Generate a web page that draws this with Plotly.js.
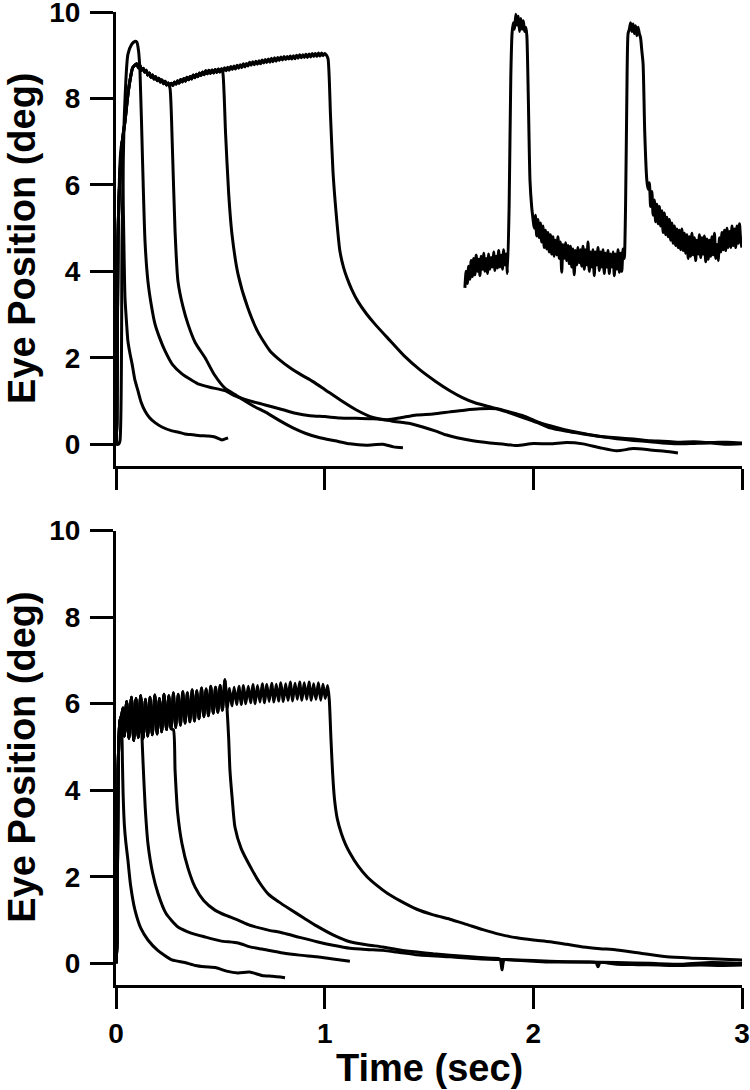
<!DOCTYPE html>
<html><head><meta charset="utf-8">
<script src="https://cdn.plot.ly/plotly-3.0.1.min.js"></script>
<style>html,body{margin:0;padding:0;background:#fff}</style>
</head><body>
<div id="chart" style="width:750px;height:1090px"></div>
<script>
// ---------------- axis ticks ----------------
const yTickVals = [0, 2, 4, 6, 8, 10];
const xTickVals = [0, 1, 2, 3];

// ---------------- TOP PANEL ----------------
const topRiseT = [0, 0.004, 0.0096, 0.02, 0.03, 0.043, 0.06, 0.081, 0.1];
const topRiseY = [0, 0.5, 4.77, 6.3, 7.0, 7.47, 8.2, 8.72, 8.8];

const topPlateauT = [0.1000,0.1075,0.1150,0.1225,0.1300,0.1375,0.1450,0.1525,0.1600,0.1675,0.1750,0.1825,0.1900,0.1975,0.2050,0.2125,0.2200,0.2275,0.2350,0.2425,0.2500,0.2575,0.2650,0.2725,0.2800,0.2875,0.2950,0.3025,0.3100,0.3175,0.3250,0.3325,0.3400,0.3475,0.3550,0.3625,0.3700,0.3775,0.3850,0.3925,0.4000,0.4075,0.4150,0.4225,0.4300,0.4375,0.4450,0.4525,0.4600,0.4675,0.4750,0.4825,0.4900,0.4975,0.5050,0.5125,0.5200,0.5275,0.5350,0.5425,0.5500,0.5575,0.5650,0.5725,0.5800,0.5875,0.5950,0.6025,0.6100,0.6175,0.6250,0.6325,0.6400,0.6475,0.6550,0.6625,0.6700,0.6775,0.6850,0.6925,0.7000,0.7075,0.7150,0.7225,0.7300,0.7375,0.7450,0.7525,0.7600,0.7675,0.7750,0.7825,0.7900,0.7975,0.8050,0.8125,0.8200,0.8275,0.8350,0.8425,0.8500,0.8575,0.8650,0.8725,0.8800,0.8875,0.8950,0.9025,0.9100,0.9175,0.9250,0.9325,0.9400,0.9475,0.9550,0.9625,0.9700,0.9775,0.9850,0.9925,1.0000,1.0075];
const topPlateauY = [8.81,8.71,8.76,8.65,8.70,8.61,8.65,8.54,8.59,8.49,8.54,8.45,8.50,8.41,8.47,8.38,8.43,8.34,8.40,8.31,8.36,8.29,8.35,8.30,8.38,8.33,8.41,8.35,8.44,8.38,8.46,8.40,8.49,8.43,8.51,8.45,8.54,8.48,8.56,8.50,8.59,8.53,8.61,8.55,8.64,8.57,8.65,8.58,8.66,8.59,8.67,8.60,8.68,8.61,8.69,8.62,8.71,8.64,8.72,8.65,8.74,8.67,8.75,8.68,8.77,8.70,8.78,8.71,8.80,8.73,8.81,8.75,8.84,8.77,8.85,8.78,8.86,8.79,8.87,8.80,8.89,8.82,8.90,8.83,8.91,8.84,8.93,8.85,8.94,8.86,8.95,8.88,8.96,8.89,8.97,8.90,8.97,8.91,8.98,8.91,8.99,8.92,9.00,8.93,9.01,8.94,9.01,8.95,9.02,8.95,9.03,8.96,9.04,8.97,9.04,8.97,9.05,8.98,9.05,8.99,9.04,9.01];

// trace 0: brief pulse, no hold
const top0T = [0,0.004,0.0096,0.018,0.026,0.031,0.035,0.039,0.043,0.05,0.057,0.067,0.077,0.09,0.105,0.12,0.139,0.16,0.187,0.22,0.268,0.3,0.33,0.37,0.402,0.44,0.474,0.508,0.52,0.537];
const top0Y = [0,0.5,4.77,6.4,7.0,6.6,5.5,4.3,3.4,2.85,2.39,2.1,1.86,1.5,1.24,0.98,0.77,0.62,0.5,0.4,0.31,0.28,0.24,0.22,0.2,0.19,0.17,0.1,0.12,0.15];

// trace 1: overshoot to 9.3
const top1T = [0,0.012,0.019,0.029,0.04,0.057,0.075,0.09,0.1,0.108,0.115,0.127,0.139,0.153,0.17,0.187,0.21,0.235,0.27,0.316,0.35,0.393,0.45,0.522,0.57,0.618,0.66,0.7,0.738,0.8,0.86,0.93,1.0,1.073,1.15,1.231,1.3,1.36,1.44,1.52,1.6,1.67,1.744,1.826,1.89,1.95,2.02,2.08,2.15,2.22,2.3,2.4,2.48,2.56,2.62,2.69,2.77,2.85,2.93,3.0];
const top1Y = [0,0.0,0.08,4.77,7.6,9.02,9.25,9.32,9.3,9.1,8.62,6.6,4.7,3.77,3.2,2.78,2.45,2.16,1.85,1.63,1.52,1.4,1.32,1.24,1.12,1.04,0.98,0.93,0.88,0.8,0.72,0.66,0.64,0.61,0.6,0.59,0.57,0.61,0.68,0.7,0.75,0.79,0.82,0.82,0.74,0.66,0.52,0.43,0.34,0.27,0.2,0.15,0.12,0.08,0.07,0.05,0.06,0.04,0.05,0.03];

// trace 2: hold to 0.25 s
const top2End = 0.25;
const top2T = [0.259,0.27,0.283,0.297,0.32,0.345,0.38,0.427,0.47,0.522,0.57,0.618,0.66,0.714,0.78,0.848,0.91,0.977,1.05,1.121,1.2,1.28,1.33,1.375];
const top2Y = [8.23,6.9,4.93,3.77,3.2,2.78,2.35,2.0,1.62,1.3,1.15,1.0,0.88,0.75,0.56,0.38,0.25,0.15,0.08,0.01,-0.02,0.0,-0.06,-0.08];

// trace 3: hold to 0.5 s
const top3End = 0.505;
const top3T = [0.512,0.525,0.54,0.556,0.585,0.632,0.68,0.738,0.79,0.834,0.89,0.944,1.0,1.073,1.15,1.231,1.32,1.409,1.47,1.529,1.58,1.634,1.71,1.792,1.86,1.921,2.0,2.08,2.16,2.238,2.319,2.4,2.48,2.56,2.63,2.693];
const top3Y = [8.6,7.2,5.8,4.85,3.93,3.15,2.6,2.16,1.93,1.77,1.6,1.45,1.27,1.03,0.8,0.62,0.54,0.48,0.4,0.31,0.22,0.15,0.08,0.03,0.0,-0.03,0.02,0.01,0.04,0.01,-0.08,-0.15,-0.1,-0.13,-0.16,-0.2];

// trace 4: hold to 1.0 s
const top4End = 1.0075;
const top4T = [1.016,1.028,1.04,1.054,1.073,1.09,1.107,1.13,1.16,1.2,1.241,1.313,1.38,1.457,1.53,1.6,1.66,1.72,1.78,1.826,1.89,1.95,2.02,2.08,2.16,2.238,2.32,2.4,2.48,2.56,2.62,2.69,2.77,2.85,2.93,3.0];
const top4Y = [8.92,7.6,6.3,5.4,4.47,4.1,3.85,3.58,3.3,3.02,2.78,2.4,2.05,1.72,1.46,1.24,1.08,0.96,0.88,0.82,0.72,0.62,0.5,0.38,0.3,0.24,0.18,0.13,0.09,0.06,0.03,0.01,0.02,0.03,0.0,0.01];

// inset: raw record with two saccades
const insetT = [1.672,1.678,1.684,1.690,1.696,1.702,1.708,1.714,1.720,1.726,1.732,1.738,1.744,1.750,1.756,1.762,1.768,1.774,1.780,1.786,1.792,1.798,1.804,1.810,1.816,1.822,1.828,1.834,1.840,1.846,1.852,1.858,1.864,1.870,1.876,
1.884,1.892,1.898,1.904,1.910,1.916,1.922,1.928,1.934,1.940,1.946,1.952,1.958,1.964,1.969,
1.976,1.984,1.992,1.998,2.004,2.010,2.016,2.022,2.028,2.034,2.040,2.046,2.052,2.058,2.064,2.070,2.076,2.082,2.088,2.094,2.100,2.106,2.112,2.118,2.124,2.130,2.136,2.142,2.148,2.154,2.160,2.166,2.172,2.178,2.184,2.190,2.196,2.202,2.208,2.214,2.220,2.226,2.232,2.238,2.244,2.250,2.256,2.262,2.268,2.274,2.280,2.286,2.292,2.298,2.304,2.310,2.316,2.322,2.328,2.334,2.340,2.346,2.352,2.358,2.364,2.370,2.376,2.382,2.388,2.394,2.400,2.406,2.412,2.418,2.424,2.430,2.436,
2.442,2.448,2.454,2.460,2.466,2.472,2.478,2.484,2.490,2.496,2.502,2.508,2.514,2.520,2.526,
2.534,2.544,2.550,2.556,2.562,2.568,2.574,2.580,2.586,2.592,2.598,2.604,2.610,2.616,2.622,2.628,2.634,2.640,2.646,2.652,2.658,2.664,2.670,2.676,2.682,2.688,2.694,2.700,2.706,2.712,2.718,2.724,2.730,2.736,2.742,2.748,2.754,2.760,2.766,2.772,2.778,2.784,2.790,2.796,2.802,2.808,2.814,2.820,2.826,2.832,2.838,2.844,2.850,2.856,2.862,2.868,2.874,2.880,2.886,2.892,2.898,2.904,2.910,2.916,2.922,2.928,2.934,2.940,2.946,2.952,2.958,2.964,2.970,2.976,2.982,2.988,2.994,3.000];
const insetY = [3.62,4.0,3.72,4.12,3.82,4.25,3.88,4.3,3.92,4.38,4.0,4.28,3.9,4.35,4.05,4.42,4.0,4.3,3.95,4.4,4.05,4.32,4.1,4.45,4.02,4.35,4.08,4.48,4.1,4.38,4.05,4.5,4.15,4.4,3.95,
5.5,8.5,9.5,9.75,9.6,9.95,9.7,9.9,9.55,9.85,9.6,9.8,9.55,9.65,9.45,
8.0,6.1,5.5,5.23,5.0,5.3,4.82,5.2,4.78,5.12,4.68,5.05,4.55,4.95,4.52,4.9,4.45,4.85,4.4,4.8,4.35,4.72,4.38,4.8,4.3,4.68,3.98,4.62,4.3,4.66,4.25,4.6,4.18,4.58,4.1,4.52,3.92,4.48,4.15,4.55,4.2,4.5,4.12,4.58,4.05,4.5,4.15,4.68,4.0,4.45,4.1,4.5,3.9,4.45,4.15,4.55,4.02,4.45,4.1,4.5,3.95,4.42,4.1,4.48,3.95,4.4,4.1,4.45,3.9,4.4,4.05,4.5,3.98,4.42,4.0,4.52,4.3,
5.5,8.0,9.5,9.6,9.75,9.55,9.72,9.5,9.68,9.45,9.65,9.5,9.4,9.1,8.8,
7.2,6.1,5.9,6.05,5.5,5.85,5.3,5.65,5.15,5.55,5.1,5.5,5.05,5.4,4.9,5.35,4.85,5.25,4.8,5.2,4.72,5.12,4.65,5.05,4.6,4.98,4.55,4.95,4.5,4.98,4.48,4.88,4.42,4.85,4.3,4.8,4.35,4.88,4.38,4.78,4.25,4.72,4.4,4.85,4.32,4.78,4.4,4.82,4.22,4.75,4.28,4.72,4.35,4.8,4.38,4.88,4.3,4.62,4.25,4.78,4.45,4.9,4.5,4.95,4.48,5.0,4.55,4.92,4.55,5.05,4.6,4.98,4.55,5.05,4.65,5.1,4.7,4.55];

// ---------------- BOTTOM PANEL ----------------
const botRiseT = [0, 0.005, 0.01, 0.019, 0.028, 0.034];
const botRiseY = [0, 0.5, 4.47, 5.6, 5.75, 5.9];

const botPlateauT = [0.040,0.051,0.062,0.074,0.085,0.096,0.107,0.118,0.130,0.141,0.152,0.163,0.174,0.186,0.197,0.208,0.219,0.230,0.242,0.253,0.264,0.275,0.286,0.298,0.309,0.320,0.331,0.342,0.354,0.365,0.376,0.387,0.398,0.410,0.421,0.432,0.443,0.454,0.466,0.477,0.488,0.499,0.510,0.522,0.533,0.544,0.555,0.566,0.578,0.589,0.600,0.611,0.622,0.634,0.645,0.656,0.667,0.678,0.690,0.701,0.712,0.723,0.734,0.746,0.757,0.768,0.779,0.790,0.802,0.813,0.824,0.835,0.846,0.858,0.869,0.880,0.891,0.902,0.914,0.925,0.936,0.947,0.958,0.970,0.981,0.992,1.003,1.014];
const botPlateauY = [5.25,6.05,5.2,6.15,5.15,6.12,5.22,6.18,5.2,6.1,5.25,6.15,5.28,6.2,5.3,6.12,5.35,6.22,5.4,6.18,5.42,6.25,5.45,6.22,5.5,6.28,5.55,6.25,5.58,6.32,5.6,6.3,5.65,6.36,5.7,6.34,5.72,6.4,5.78,6.38,5.8,6.42,5.85,6.55,5.9,6.35,5.95,6.38,5.98,6.4,5.98,6.42,6.0,6.4,6.02,6.44,6.0,6.42,6.04,6.46,6.02,6.44,6.05,6.47,6.04,6.45,6.06,6.48,6.05,6.46,6.08,6.5,6.06,6.47,6.1,6.5,6.08,6.48,6.1,6.5,6.08,6.46,6.1,6.48,6.08,6.45,6.12,6.42];

const bot0T = [0,0.005,0.01,0.019,0.026,0.031,0.034,0.04,0.047,0.057,0.07,0.091,0.12,0.153,0.2,0.268,0.33,0.38,0.426,0.48,0.53,0.585,0.64,0.7,0.75,0.81];
const bot0Y = [0,0.5,4.47,5.6,5.5,4.6,3.93,3.2,2.8,2.39,1.8,1.23,0.8,0.54,0.3,0.08,0.02,-0.05,-0.08,-0.1,-0.18,-0.22,-0.2,-0.28,-0.3,-0.33];

const bot1End = 0.118;
const bot1T = [0.124,0.13,0.14,0.153,0.175,0.201,0.24,0.297,0.36,0.426,0.5,0.585,0.642,0.7,0.8,0.88,0.963,1.04,1.121];
const bot1Y = [5.3,4.6,3.6,2.77,2.1,1.62,1.15,0.84,0.7,0.61,0.52,0.47,0.38,0.33,0.24,0.19,0.15,0.1,0.05];

const bot2End = 0.264;
const bot2T = [0.275,0.283,0.295,0.316,0.345,0.379,0.42,0.474,0.53,0.585,0.642,0.72,0.8,0.88,0.963,1.04,1.121,1.2,1.279,1.36,1.44,1.6,1.75,1.921,2.08,2.238,2.4,2.56,2.72,2.85,3.0];
const bot2Y = [5.4,4.47,3.5,2.77,2.2,1.76,1.45,1.23,1.1,1.0,0.88,0.78,0.7,0.6,0.5,0.42,0.35,0.32,0.3,0.25,0.2,0.15,0.1,0.08,0.05,0.03,0.02,0.0,-0.02,0.02,0.0];

const bot3End = 0.522;
const bot3T = [0.532,0.54,0.546,0.557,0.57,0.6,0.652,0.69,0.73,0.78,0.834,0.9,0.963,1.04,1.121,1.2,1.279,1.36,1.442,1.52,1.6,1.7,1.8,1.84,1.85,1.86,1.921,2.0,2.08,2.16,2.238,2.3,2.31,2.32,2.4,2.5,2.6,2.7,2.8,2.9,3.0];
const bot3Y = [5.9,5.2,4.47,3.8,3.15,2.65,2.16,1.85,1.6,1.42,1.25,1.05,0.86,0.66,0.5,0.43,0.38,0.31,0.26,0.22,0.19,0.15,0.12,0.1,-0.15,0.08,0.07,0.05,0.03,0.03,0.03,0.02,-0.08,0.02,-0.02,-0.03,-0.04,-0.05,-0.04,-0.05,-0.04];

const bot4End = 1.014;
const bot4T = [1.022,1.03,1.038,1.047,1.06,1.08,1.1,1.121,1.16,1.203,1.25,1.3,1.36,1.442,1.52,1.6,1.68,1.758,1.84,1.921,2.0,2.08,2.16,2.238,2.32,2.4,2.52,2.64,2.76,2.88,3.0];
const bot4Y = [6.1,5.2,4.4,3.8,3.35,3.0,2.75,2.55,2.25,2.0,1.8,1.62,1.45,1.25,1.12,1.02,0.9,0.78,0.67,0.59,0.54,0.5,0.44,0.38,0.34,0.31,0.23,0.15,0.12,0.1,0.08];

// ---------------- build traces ----------------
function held(riseT, riseY, plT, plY, tEnd, decT, decY) {
  const x = riseT.slice(), y = riseY.slice();
  for (let i = 0; i < plT.length; i++) {
    if (plT[i] > riseT[riseT.length - 1] && plT[i] <= tEnd + 1e-9) { x.push(plT[i]); y.push(plY[i]); }
  }
  return {x: x.concat(decT), y: y.concat(decY)};
}
const LINE = {color: '#000', width: 3, shape: 'spline', smoothing: 0.6};
function tr(d, xa, ya) {
  return {type: 'scatter', mode: 'lines', x: d.x, y: d.y, xaxis: xa, yaxis: ya, line: LINE, hoverinfo: 'skip', showlegend: false};
}
const data = [
  tr({x: top0T, y: top0Y}, 'x', 'y'),
  tr({x: top1T, y: top1Y}, 'x', 'y'),
  tr(held(topRiseT, topRiseY, topPlateauT, topPlateauY, top2End, top2T, top2Y), 'x', 'y'),
  tr(held(topRiseT, topRiseY, topPlateauT, topPlateauY, top3End, top3T, top3Y), 'x', 'y'),
  tr(held(topRiseT, topRiseY, topPlateauT, topPlateauY, top4End, top4T, top4Y), 'x', 'y'),
  tr({x: insetT, y: insetY}, 'x', 'y'),
  tr({x: bot0T, y: bot0Y}, 'x2', 'y2'),
  tr(held(botRiseT, botRiseY, botPlateauT, botPlateauY, bot1End, bot1T, bot1Y), 'x2', 'y2'),
  tr(held(botRiseT, botRiseY, botPlateauT, botPlateauY, bot2End, bot2T, bot2Y), 'x2', 'y2'),
  tr(held(botRiseT, botRiseY, botPlateauT, botPlateauY, bot3End, bot3T, bot3Y), 'x2', 'y2'),
  tr(held(botRiseT, botRiseY, botPlateauT, botPlateauY, bot4End, bot4T, bot4Y), 'x2', 'y2')
];

const FONT = 'Liberation Sans, Arial, Helvetica, sans-serif';
const tickFont = {family: FONT, size: 28, color: '#000', weight: 'bold'};
const titleFont = {family: FONT, size: 38, color: '#000', weight: 'bold'};

function yAx(domain, anchor) {
  return {domain: domain, anchor: anchor, range: [-0.5, 10], tickmode: 'array', tickvals: yTickVals,
    ticks: 'outside', ticklen: 23, tickwidth: 3, tickcolor: '#000', showline: true, linewidth: 3, linecolor: '#000',
    showgrid: false, zeroline: false, tickfont: tickFont, ticklabelstandoff: 4, ticklabeloverflow: 'allow', fixedrange: true};
}
function xAx(anchor, labels) {
  return {domain: [0, 1], anchor: anchor, range: [0, 3], tickmode: 'array', tickvals: xTickVals,
    ticks: 'outside', ticklen: 21, tickwidth: 3, tickcolor: '#000', showline: true, linewidth: 3, linecolor: '#000',
    showgrid: false, zeroline: false, showticklabels: labels, tickfont: tickFont,
    ticklabeloverflow: 'allow', fixedrange: true};
}
const topDom = [0.5335, 1], botDom = [0, 0.4671];
const layout = {
  width: 750, height: 1090, margin: {l: 116, r: 8, t: 12, b: 105},
  paper_bgcolor: '#fff', plot_bgcolor: '#fff', showlegend: false,
  xaxis: xAx('y', false), yaxis: yAx(topDom, 'x'),
  xaxis2: xAx('y2', true), yaxis2: yAx(botDom, 'x2'),
  annotations: [
    {text: 'Eye Position (deg)', xref: 'paper', yref: 'paper', x: 0, y: (topDom[0] + topDom[1]) / 2, xshift: -94,
     xanchor: 'center', yanchor: 'middle', textangle: -90, showarrow: false, font: titleFont},
    {text: 'Eye Position (deg)', xref: 'paper', yref: 'paper', x: 0, y: (botDom[0] + botDom[1]) / 2, xshift: -94,
     xanchor: 'center', yanchor: 'middle', textangle: -90, showarrow: false, font: titleFont},
    {text: 'Time (sec)', xref: 'paper', yref: 'paper', x: 0.5, y: 0, yshift: -83,
     xanchor: 'center', yanchor: 'middle', showarrow: false, font: titleFont}
  ]
};
Plotly.newPlot('chart', data, layout, {displayModeBar: false, staticPlot: true});
</script>
</body></html>
